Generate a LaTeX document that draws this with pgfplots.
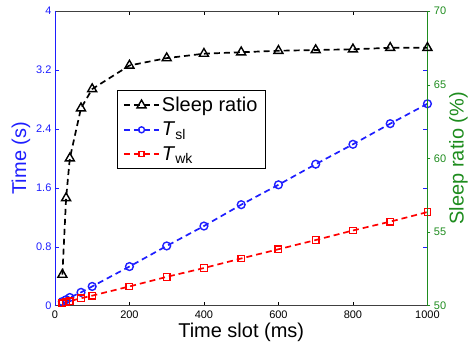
\documentclass[border=0pt]{standalone}
\usepackage{fontspec}
\setmainfont{Liberation Sans}
\usepackage{pgfplots}
\pgfplotsset{compat=1.18}
\definecolor{myblue}{RGB}{30,30,255}
\definecolor{mygreen}{RGB}{30,140,30}
\definecolor{myred}{RGB}{255,0,0}
\begin{document}
\begin{tikzpicture}
\pgfplotsset{every axis/.append style={
  scale only axis, width=373pt, height=295pt, xmin=0, xmax=1000,
  /pgf/number format/assume math mode=true,
  /pgf/number format/1000 sep={},
  tick label style={font=\fontsize{11}{13}\selectfont},
  major tick length=4pt,
}}
\begin{axis}[
  separate axis lines, axis lines=box,
  x axis line style={black!75, line width=0.6pt},
  y axis line style={myblue, line width=0.6pt},
  ymin=0, ymax=4,
  xtick={0,200,...,1000},
  ytick={0,0.8,1.6,2.4,3.2,4},
  yticklabels={0,0.8,1.6,2.4,3.2,4},
  tick align=inside,
  xtick pos=both, ytick pos=both,
  ytick style={myblue},
  xtick style={black},
  yticklabel style={myblue},
  xticklabel style={yshift=-2pt},
  xlabel={Time slot (ms)},
  ylabel={Time (s)},
  ylabel style={myblue, font=\fontsize{20}{24}\selectfont, at={(axis description cs:-0.091,0.5)}, anchor=center, rotate=0},
  xlabel style={font=\fontsize{20}{24}\selectfont, at={(axis description cs:0.5,-0.092)}, anchor=center},
]
\addplot[myblue, line width=1.7pt, dash pattern=on 6pt off 4pt, mark=o, mark size=3.9pt, mark options={solid, line width=1.4pt}]
coordinates {(20,0.055) (30,0.08) (40,0.11) (70,0.18) (100,0.26) (200,0.53) (300,0.81) (400,1.08) (500,1.37) (600,1.64) (700,1.92) (800,2.19) (900,2.47) (1000,2.74)};
\addplot[myred, line width=1.7pt, dash pattern=on 6pt off 4pt, mark=square, mark size=3.3pt, mark options={solid, line width=1.3pt}]
coordinates {(20,0.03) (30,0.045) (40,0.06) (70,0.10) (100,0.135) (200,0.26) (300,0.39) (400,0.51) (500,0.64) (600,0.765) (700,0.89) (800,1.02) (900,1.14) (1000,1.27)};
\end{axis}
\begin{axis}[
  axis y line*=right, axis x line=none,
  ymin=50, ymax=70,
  ytick={50,55,...,70},
  tick align=outside,
  major tick length=3pt,
  y axis line style={mygreen, line width=0.6pt},
  ytick style={mygreen},
  yticklabel style={mygreen},
  ylabel={Sleep ratio (\%)},
  ylabel style={mygreen, font=\fontsize{20}{24}\selectfont, at={(axis description cs:1.083,0.5)}, anchor=center},
  legend style={at={(axis description cs:0.166,0.732)}, anchor=north west,
    font=\fontsize{20}{24}\selectfont, draw=black, line width=0.6pt,
    inner xsep=6pt, inner ysep=5pt, row sep=5pt},
  legend cell align=left,
  legend image code/.code={\draw[mark repeat=2, mark phase=2, #1] plot coordinates {(0cm,0cm) (0.62cm,0cm) (1.24cm,0cm)};},
]
\addplot[black, line width=1.7pt, dash pattern=on 6pt off 4pt, mark=triangle, mark size=5.2pt, mark options={solid, line width=1.4pt}]
coordinates {(20,52.1) (30,57.3) (40,60.0) (70,63.4) (100,64.7) (200,66.3) (300,66.8) (400,67.1) (500,67.2) (600,67.3) (700,67.35) (800,67.4) (900,67.5) (1000,67.5)};
\addlegendentry{Sleep ratio}
\addlegendimage{myblue, line width=1.7pt, dash pattern=on 6pt off 4pt, mark=o, mark size=3pt, mark options={solid, line width=1.4pt}}
\addlegendentry{\textit{T}\textsubscript{sl}}
\addlegendimage{myred, line width=1.7pt, dash pattern=on 6pt off 4pt, mark=square, mark size=2.5pt, mark options={solid, line width=1.3pt}}
\addlegendentry{\textit{T}\textsubscript{wk}}
\end{axis}
\path ([shift={(-55pt,-41pt)}]current axis.south west) rectangle ([shift={(43pt,11pt)}]current axis.north east);
\end{tikzpicture}
\end{document}
